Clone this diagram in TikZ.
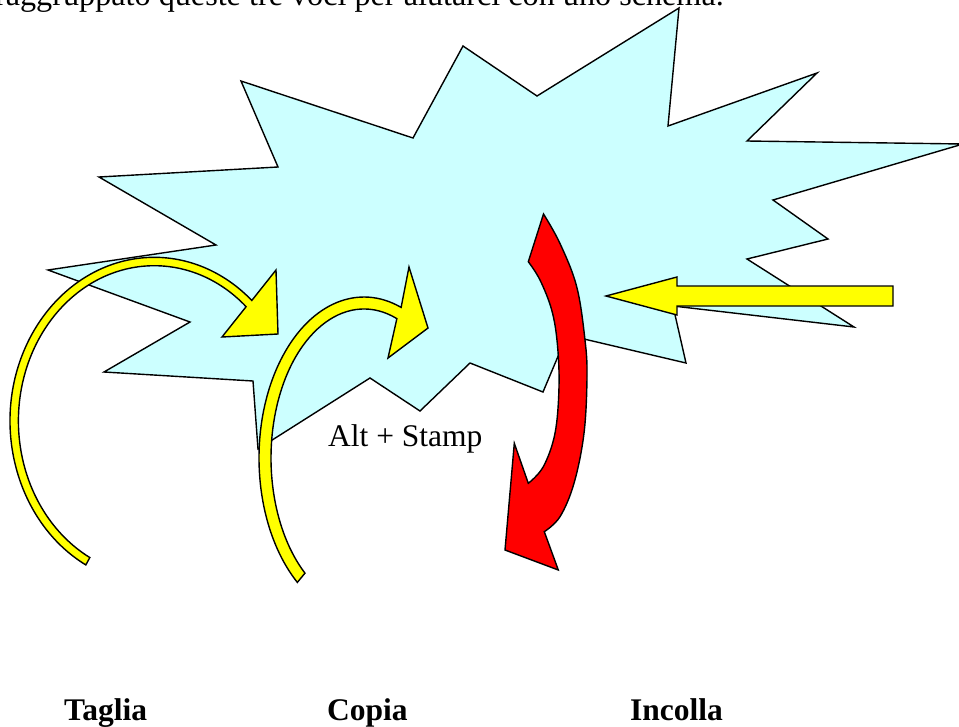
\documentclass[tikz,border=0pt]{standalone}
\usepackage{fontspec}
\setmainfont{Liberation Serif}
\usetikzlibrary{calc}
\definecolor{boom}{HTML}{CCFFFF}
\definecolor{yel}{HTML}{FFFF00}
\definecolor{rd}{HTML}{FF0000}
\tikzset{
  outl/.style={draw=black, line width=1.4pt, line join=miter},
  boomshape/.style={outl, fill=boom},
  yarrow/.style={outl, fill=yel},
  rarrow/.style={outl, fill=rd},
  lbl/.style={inner sep=0pt, font=\fontsize{31.5}{36}\selectfont},
  toplbl/.style={inner sep=0pt, font=\fontsize{32.2}{36}\selectfont},
  blbl/.style={inner sep=0pt, font=\fontsize{31.5}{36}\selectfont\bfseries},
}
\begin{document}
\begin{tikzpicture}[x=1pt, y=-1pt]
\useasboundingbox (0,0) rectangle (959,726);
\clip (0,0) rectangle (959,726);
\fill[white] (0,0) rectangle (959,726);

% top text line (cut off at the top edge, as in the reference)
\node[toplbl, anchor=base east] (toptext) at (724,5) {raggruppato queste tre voci per aiutarci con uno schema.};

% explosion
\draw[boomshape] (241,81) -- (278,167) -- (99,177) -- (216,245) -- (48,270)
  -- (190,322) -- (104,372) -- (253,381) -- (258,449) -- (370,378)
  -- (420,411) -- (470,363) -- (543,392) -- (567,335) -- (686,363)
  -- (673,306) -- (854,327) -- (747,259) -- (828,239) -- (773,200)
  -- (963,144) -- (747,141) -- (817,73) -- (668,126) -- (679,8)
  -- (537,96) -- (463,46) -- (413,138) -- cycle;

% curved arrow 1 (Taglia)
\draw[yarrow] ($(154.2,420.9)+({144.2*cos(118.3)},{163.6*sin(118.3)})$)
  arc[start angle=118.3, end angle=312.6, x radius=144.2, y radius=163.6]
  -- (276,270) -- (278,334) -- (222,337)
  -- ($(154.2,420.9)+({135.8*cos(312.6)},{155.2*sin(312.6)})$)
  arc[start angle=312.6, end angle=118.3, x radius=135.8, y radius=155.2]
  -- cycle;

% curved arrow 2 (Copia)
\draw[yarrow] ($(364,458)+({105*cos(129.4)},{161*sin(129.4)})$)
  arc[start angle=129.4, end angle=290.7, x radius=105, y radius=161]
  -- (409,267) -- (428,328) -- (388,358)
  -- ($(364,458)+({93*cos(290.7)},{149*sin(290.7)})$)
  arc[start angle=290.7, end angle=129.4, x radius=93, y radius=149]
  -- cycle;

% red curved arrow (Incolla)
\draw[rarrow] plot[smooth, tension=0.6] coordinates {(543.5,214) (560,243.5) (576.7,286.7) (585,340) (587,376.7) (584,433.3) (574,483.3) (560,516.7) (544.3,531.7)}
  -- (558.3,570) -- (505,550) -- (514.3,443.3)
  -- plot[smooth, tension=0.6] coordinates {(528.3,483.3) (543.3,466.7) (555,433.3) (559,386.7) (557.3,343.3) (551.7,310) (540,280) (528.3,261.7)}
  -- cycle;

% straight yellow arrow
\draw[yarrow] (893,286) -- (677,286) -- (677,277) -- (606,296) -- (677,315) -- (677,306) -- (893,306) -- cycle;

% labels
\node[lbl, anchor=base west] (alt) at (328,446) {Alt + Stamp};
\node[blbl, anchor=base west] (taglia) at (64,720) {Taglia};
\node[blbl, anchor=base west] (copia) at (327,720) {Copia};
\node[blbl, anchor=base west] (incolla) at (630,720) {Incolla};
\end{tikzpicture}
\end{document}
